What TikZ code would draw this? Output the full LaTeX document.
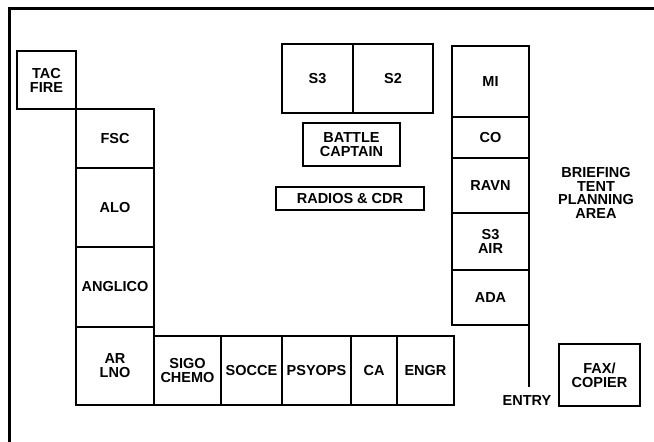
\documentclass[tikz,border=0pt]{standalone}
\usepackage{fontspec}
\setmainfont{Liberation Sans}
\usepackage{tikz}

\tikzset{
  room/.style={draw, line width=1.5pt, inner sep=0pt, outer sep=0pt, anchor=north west,
               align=center, font=\bfseries\fontsize{14.5}{14}\selectfont},
  tag/.style={inner sep=0pt, align=center, font=\bfseries\fontsize{14.5}{13.5}\selectfont}
}

\begin{document}
\begin{tikzpicture}[x=1pt, y=-1pt]
    \useasboundingbox (0,0) rectangle (654,442);
    \draw [line width=3pt] (9,442) -- (9,8) -- (654,8); % tent wall
                     % left column
    \node[room, minimum width=59, minimum height=58] (tacfire) at (17,51) {TAC\\FIRE};
    \node[room, minimum width=78, minimum height=59] (fsc) at (76,109) {FSC};
    \node[room, minimum width=78, minimum height=79] (alo) at (76,168) {ALO};
    \node[room, minimum width=78, minimum height=80] (anglico) at (76,247) {ANGLICO};
    \node[room, minimum width=78, minimum height=78] (arlno) at (76,327) {AR\\LNO};
                     % bottom row
    \node[room, minimum width=67, minimum height=69] (sigo) at (154,336) {SIGO\\CHEMO};
    \node[room, minimum width=61, minimum height=69] (socce) at (221,336) {SOCCE};
    \node[room, minimum width=69, minimum height=69] (psyops) at (282,336) {PSYOPS};
    \node[room, minimum width=46, minimum height=69] (ca) at (351,336) {CA};
    \node[room, minimum width=57, minimum height=69] (engr) at (397,336) {ENGR};
                     % centre
    \node[room, minimum width=71, minimum height=69] (sthree) at (282,44) {S3};
    \node[room, minimum width=80, minimum height=69] (stwo) at (353,44) {S2};
    \node[room, minimum width=97, minimum height=43] (battle) at (303,123) {BATTLE\\CAPTAIN};
    \node[room, minimum width=148, minimum height=23] (radios) at (276,187) {RADIOS \& CDR};
                     % right column
    \node[room, minimum width=77, minimum height=71] (mi) at (452,46) {MI};
    \node[room, minimum width=77, minimum height=41] (co) at (452,117) {CO};
    \node[room, minimum width=77, minimum height=55] (ravn) at (452,158) {RAVN};
    \node[room, minimum width=77, minimum height=57] (sair) at (452,213) {S3\\AIR};
    \node[room, minimum width=77, minimum height=55] (ada) at (452,270) {ADA};
    \coordinate (door) at (529,387); % entry gap
    \draw [line width=1.5pt] (ada.south east) -- (ada.south east |- door);
    \node[tag] (entry) at (527,401) {ENTRY};
    \node[room, minimum width=81, minimum height=62] (fax) at (559,344) {FAX/\\COPIER};
    \node[tag] (brief) at (596,193) {BRIEFING\\TENT\\PLANNING\\AREA};
\end{tikzpicture}
\end{document}
